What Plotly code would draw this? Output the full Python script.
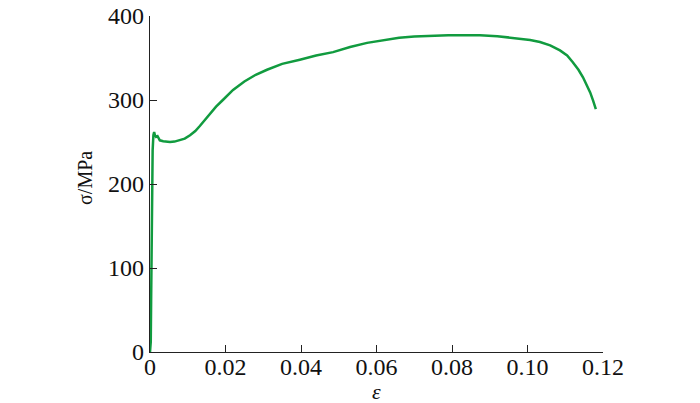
import plotly.graph_objects as go

strain = [0.0, 0.0002, 0.0003, 0.0004, 0.0005, 0.0006, 0.0007, 0.0009, 0.0011, 0.0013,
          0.0016, 0.0020, 0.0026, 0.0035, 0.0045, 0.0053, 0.0065, 0.0079, 0.0092,
          0.0106, 0.0120, 0.0132, 0.0145, 0.0159, 0.0175, 0.0193, 0.0220, 0.0250,
          0.0280, 0.0310, 0.0350, 0.0397, 0.0440, 0.0485, 0.0530, 0.0575, 0.0620,
          0.0660, 0.0700, 0.0750, 0.0790, 0.0830, 0.0874, 0.0920, 0.0962, 0.1007,
          0.1033, 0.1060, 0.1086, 0.1105, 0.1120, 0.1135, 0.1147, 0.1157, 0.1166,
          0.1174, 0.1181]
stress = [0, 12, 60, 120, 170, 210, 240, 258, 262, 258,
          256, 257, 252, 251, 250.5, 250, 250.5, 252, 254,
          258, 263, 269, 276, 284, 292, 300, 312, 322,
          330, 336, 343, 348, 353, 357, 363, 368, 371,
          374, 375.5, 376.5, 377, 377, 377, 376, 374, 371.5,
          369, 365, 359, 353, 345, 336, 327, 318, 309,
          299, 289]

fig = go.Figure()
fig.add_trace(go.Scatter(x=strain, y=stress, mode="lines",
                         line=dict(color="#119b3f", width=2.5),
                         showlegend=False, hoverinfo="skip"))

font = dict(family="Liberation Serif", size=24, color="#111")
title_font = dict(family="Liberation Serif", size=20, color="#111")
eps_font = dict(family="Liberation Serif", size=22, color="#111")

fig.update_layout(
    template="none",
    width=700, height=403,
    margin=dict(l=142, r=105, t=8, b=59, autoexpand=False),
    paper_bgcolor="white", plot_bgcolor="white",
    font=font,
    xaxis=dict(range=[0, 0.12], tickvals=[0, 0.02, 0.04, 0.06, 0.08, 0.10, 0.12],
               ticktext=["0", "0.02", "0.04", "0.06", "0.08", "0.10", "0.12"],
               automargin=False, ticklabeloverflow="allow", ticklabelstandoff=-7,
               showgrid=False, zeroline=False, showline=True, linecolor="#222", linewidth=1.2,
               ticks="inside", ticklen=7, tickcolor="#222", tickwidth=1.2,
               tickfont=font),
    yaxis=dict(range=[0, 400], tickvals=[0, 100, 200, 300, 400],
               automargin=False, ticklabeloverflow="allow",
               showgrid=False, zeroline=False, showline=True, linecolor="#222", linewidth=1.2,
               ticks="inside", ticklen=7, tickcolor="#222", tickwidth=1.2,
               tickfont=font),
    annotations=[
        dict(text="σ/MPa", xref="paper", yref="paper", x=-0.1435, y=0.518,
             xanchor="center", yanchor="middle", textangle=-90, showarrow=False,
             font=title_font),
        dict(text="<i>ε</i>", xref="paper", yref="paper", x=0.5, y=-0.118,
             xanchor="center", yanchor="middle", showarrow=False, font=eps_font),
    ],
)

fig.write_html("out.html")
